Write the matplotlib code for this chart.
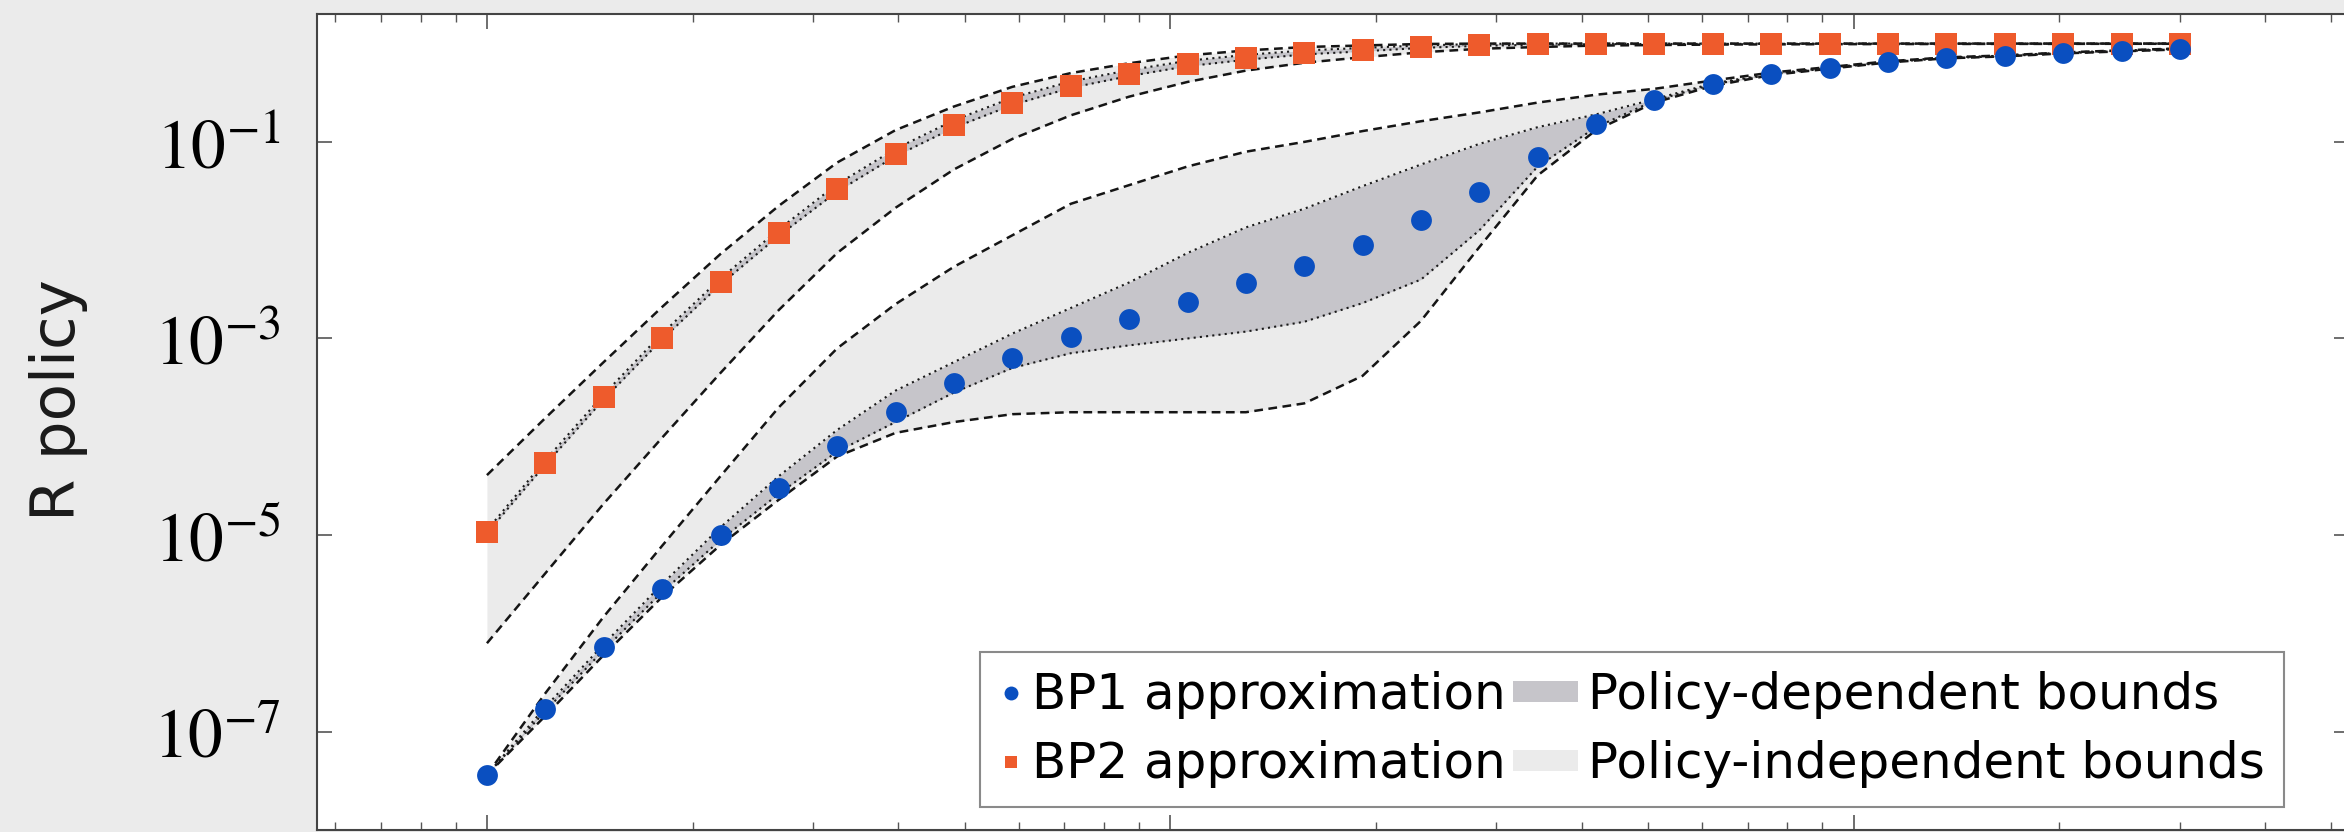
import numpy as np
import matplotlib
matplotlib.use("Agg")
import matplotlib.pyplot as plt
from matplotlib.lines import Line2D
from matplotlib.patches import Patch, Rectangle
from matplotlib.legend_handler import HandlerBase
from matplotlib.ticker import NullLocator

# x positions of the 30 samples (log spaced)
x_vals = [1.000, 1.217, 1.482, 1.804, 2.197, 2.674, 3.255, 3.963, 4.825, 5.874,
          7.151, 8.705, 10.60, 12.90, 15.71, 19.12, 23.28, 28.34, 34.50, 42.00,
          51.13, 62.25, 75.78, 92.25, 112.3, 136.7, 166.4, 202.6, 246.7, 300.3]

# all series below are log10 of R policy
bp1_exp = [-7.44, -6.77, -6.14, -5.55, -5.00, -4.52, -4.09, -3.75, -3.45, -3.20,
           -2.98, -2.80, -2.63, -2.44, -2.26, -2.05, -1.79, -1.51, -1.15, -0.82,
           -0.57, -0.41, -0.31, -0.247, -0.186, -0.145, -0.125, -0.095, -0.074, -0.054]
bp1_dep_hi = [-7.44, -6.75, -6.11, -5.50, -4.92, -4.40, -3.93, -3.53, -3.24, -2.95,
              -2.69, -2.43, -2.13, -1.87, -1.68, -1.45, -1.23, -1.02, -0.85, -0.72,
              -0.565, -0.405, -0.307, -0.244, -0.183, -0.142, -0.122, -0.092, -0.071, -0.051]
bp1_dep_lo = [-7.44, -6.79, -6.17, -5.58, -5.05, -4.58, -4.15, -3.85, -3.55, -3.30,
              -3.15, -3.07, -3.00, -2.93, -2.83, -2.64, -2.40, -1.90, -1.25, -0.85,
              -0.58, -0.415, -0.313, -0.25, -0.189, -0.148, -0.128, -0.098, -0.077, -0.057]
bp1_ind_hi = [-7.44, -6.61, -5.83, -5.11, -4.40, -3.70, -3.10, -2.65, -2.27, -1.95,
              -1.63, -1.44, -1.25, -1.10, -1.00, -0.89, -0.79, -0.70, -0.60, -0.52,
              -0.46, -0.375, -0.295, -0.238, -0.180, -0.140, -0.120, -0.090, -0.069, -0.049]
bp1_ind_lo = [-7.44, -6.84, -6.22, -5.63, -5.10, -4.64, -4.20, -3.96, -3.85, -3.77,
              -3.75, -3.75, -3.75, -3.75, -3.66, -3.38, -2.82, -2.07, -1.34, -0.88,
              -0.60, -0.43, -0.32, -0.255, -0.192, -0.150, -0.130, -0.100, -0.079, -0.059]

bp2_exp = [-4.97, -4.27, -3.60, -2.99, -2.43, -1.93, -1.48, -1.12, -0.83, -0.60,
           -0.43, -0.31, -0.21, -0.145, -0.095, -0.064, -0.034, -0.013, -0.004, 0.0,
           0.0, 0.0, 0.0, 0.0, 0.0, 0.0, 0.0, 0.0, 0.0, 0.0]
bp2_dep_hi = [-4.95, -4.24, -3.57, -2.95, -2.39, -1.89, -1.43, -1.07, -0.78, -0.55,
              -0.385, -0.27, -0.175, -0.115, -0.07, -0.044, -0.019, -0.003, 0.0, 0.0,
              0.0, 0.0, 0.0, 0.0, 0.0, 0.0, 0.0, 0.0, 0.0, 0.0]
bp2_dep_lo = [-4.98, -4.285, -3.62, -3.01, -2.45, -1.955, -1.505, -1.145, -0.855, -0.625,
              -0.45, -0.33, -0.23, -0.165, -0.11, -0.079, -0.044, -0.023, -0.012, -0.006,
              -0.004, -0.003, -0.002, -0.002, -0.001, -0.001, -0.001, 0.0, 0.0, 0.0]
bp2_ind_hi = [-4.39, -3.81, -3.24, -2.68, -2.14, -1.65, -1.21, -0.88, -0.64, -0.44,
              -0.30, -0.20, -0.12, -0.07, -0.035, -0.019, -0.004, 0.0, 0.0, 0.0,
              0.0, 0.0, 0.0, 0.0, 0.0, 0.0, 0.0, 0.0, 0.0, 0.0]
bp2_ind_lo = [-6.10, -5.39, -4.68, -4.01, -3.35, -2.71, -2.13, -1.67, -1.28, -0.97,
              -0.73, -0.54, -0.39, -0.275, -0.195, -0.139, -0.089, -0.053, -0.035, -0.02,
              -0.015, -0.01, -0.008, -0.006, -0.005, -0.004, -0.003, -0.003, -0.002, -0.002]

ytick_vals = [1e-7, 1e-5, 1e-3, 1e-1]
ytick_labels = [r"$10^{-7}$", r"$10^{-5}$", r"$10^{-3}$", r"$10^{-1}$"]
labels = ["BP1 approximation", "BP2 approximation",
          "Policy-dependent bounds", "Policy-independent bounds"]

blue = "#0a4fc0"
orange = "#ee5b2c"
light = "#ebebeb"
dark = "#c6c5ca"


def p10(v):
    return 10.0 ** np.asarray(v)


class WideSwatch(HandlerBase):
    # swatch wider than the (narrow) handle box, growing to the left
    def create_artists(self, legend, orig_handle, xdescent, ydescent,
                       width, height, fontsize, trans):
        w = 1.3 * fontsize
        h = 0.42 * fontsize
        r = Rectangle((-xdescent + width - w, -ydescent + (height - h) / 2), w, h,
                      facecolor=orig_handle.get_facecolor(), edgecolor="none",
                      transform=trans)
        return [r]


plt.rcParams["mathtext.fontset"] = "stix"

fig = plt.figure(figsize=(23.44, 8.32), dpi=100, facecolor=light)
ax = fig.add_axes([317 / 2344, 2 / 832, (2349 - 317) / 2344, (818 - 2) / 832])
ax.set_facecolor("white")
ax.set_xscale("log")
ax.set_yscale("log")

x = np.array(x_vals)

# shaded regions
ax.fill_between(x, p10(bp2_ind_lo), p10(bp2_ind_hi), color=light, lw=0, zorder=1)
ax.fill_between(x, p10(bp1_ind_lo), p10(bp1_ind_hi), color=light, lw=0, zorder=1)
ax.fill_between(x, p10(bp2_dep_lo), p10(bp2_dep_hi), color=dark, lw=0, zorder=2)
ax.fill_between(x, p10(bp1_dep_lo), p10(bp1_dep_hi), color=dark, lw=0, zorder=2)

# bound lines
dash = (0, (3.5, 2.2))
dots = (0, (1, 2))
for b in (bp2_ind_lo, bp2_ind_hi, bp1_ind_lo, bp1_ind_hi):
    ax.plot(x, p10(b), color="#151515", lw=1.8, ls=dash, zorder=3)
for b in (bp2_dep_lo, bp2_dep_hi, bp1_dep_lo, bp1_dep_hi):
    ax.plot(x, p10(b), color="#1a1a1a", lw=1.5, ls=dots, zorder=3)

# approximations
ax.plot(x, p10(bp2_exp), "s", color=orange, ms=15.5, mew=0, zorder=5)
ax.plot(x, p10(bp1_exp), "o", color=blue, ms=15, mew=0, zorder=5)

ax.set_xlim(0.564, 531)
ax.set_ylim(1e-8, 2.0)

ax.set_yticks(ytick_vals)
ax.set_yticklabels(ytick_labels)
ax.yaxis.set_minor_locator(NullLocator())

ax.tick_params(which="both", direction="in", top=True, right=True,
               color="#555555", labelcolor="black")
ax.tick_params(which="major", length=11, width=1.2)
ax.tick_params(which="minor", length=6, width=1.0)
ax.tick_params(axis="x", labelbottom=False)
ax.tick_params(axis="y", labelsize=50, pad=26)

for s in ax.spines.values():
    s.set_color("#444444")
    s.set_linewidth(1.5)

ax.set_ylabel("R policy", fontsize=44, color="#1a1a1a", va="center")
ax.yaxis.set_label_coords(-0.127, 0.527)

handles = [
    Line2D([], [], marker="o", ls="none", color=blue, ms=10, mew=0),
    Line2D([], [], marker="s", ls="none", color=orange, ms=9, mew=0),
    Patch(facecolor=dark, edgecolor="none"),
    Patch(facecolor=light, edgecolor="none"),
]
leg = ax.legend(handles, labels, ncol=2, loc="lower right",
                bbox_to_anchor=(0.968, 0.028), borderaxespad=0,
                fontsize=36, frameon=True, fancybox=False, framealpha=1,
                edgecolor="#8a8a8a", borderpad=0.38, labelspacing=0.42,
                handlelength=0.45, handleheight=0.5, handletextpad=0.2,
                columnspacing=1.0, handler_map={Patch: WideSwatch()})
leg.get_frame().set_linewidth(1.5)

fig.savefig("out.png", dpi=100, facecolor=light)
